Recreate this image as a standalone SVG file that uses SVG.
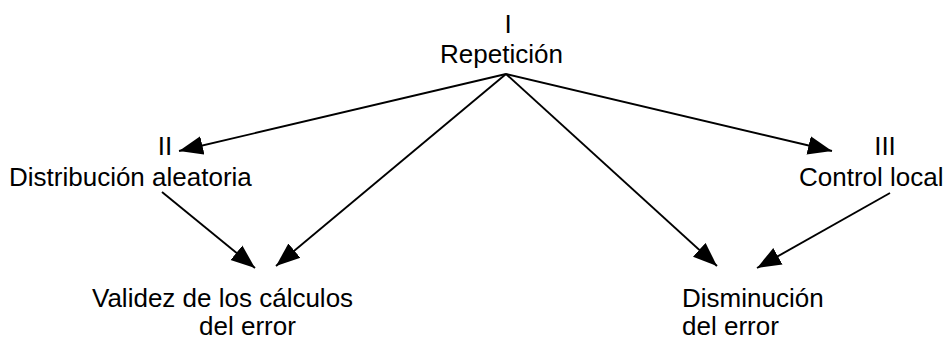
<svg xmlns="http://www.w3.org/2000/svg" width="950" height="341" viewBox="0 0 950 341">
  <style>
    text { font-family: "Liberation Sans", Arial, sans-serif; font-size: 26px; fill: #000; }
    .mid { text-anchor: middle; }
    .edge { stroke: #000; stroke-width: 1.9; fill: none; marker-end: url(#head); }
  </style>
  <defs>
    <marker id="head" markerUnits="userSpaceOnUse" markerWidth="24" markerHeight="20" viewBox="0 0 23 18" refX="23" refY="9" orient="auto">
      <path d="M0,0 L23,9 L0,18 z" fill="#000"/>
    </marker>
  </defs>

  <!-- connectors -->
  <g id="connectors">
    <line class="edge" x1="506" y1="74" x2="179" y2="151"/>
    <line class="edge" x1="506" y1="74" x2="276" y2="266"/>
    <line class="edge" x1="506" y1="74" x2="717" y2="266"/>
    <line class="edge" x1="506" y1="74" x2="832" y2="151"/>
    <line class="edge" x1="162" y1="192" x2="255" y2="268"/>
    <line class="edge" x1="890" y1="193" x2="757" y2="268"/>
  </g>

  <!-- nodes -->
  <g id="repeticion">
    <text class="mid" x="508" y="33">I</text>
    <text x="440" y="63">Repetición</text>
  </g>
  <g id="distribucion">
    <text class="mid" x="165" y="155">II</text>
    <text x="9" y="186">Distribución aleatoria</text>
  </g>
  <g id="control">
    <text class="mid" x="885" y="155">III</text>
    <text x="799" y="186">Control local</text>
  </g>
  <g id="validez">
    <text x="92" y="307">Validez de los cálculos</text>
    <text x="199" y="335">del error</text>
  </g>
  <g id="disminucion">
    <text x="682" y="307">Disminución</text>
    <text x="682" y="335">del error</text>
  </g>
</svg>
